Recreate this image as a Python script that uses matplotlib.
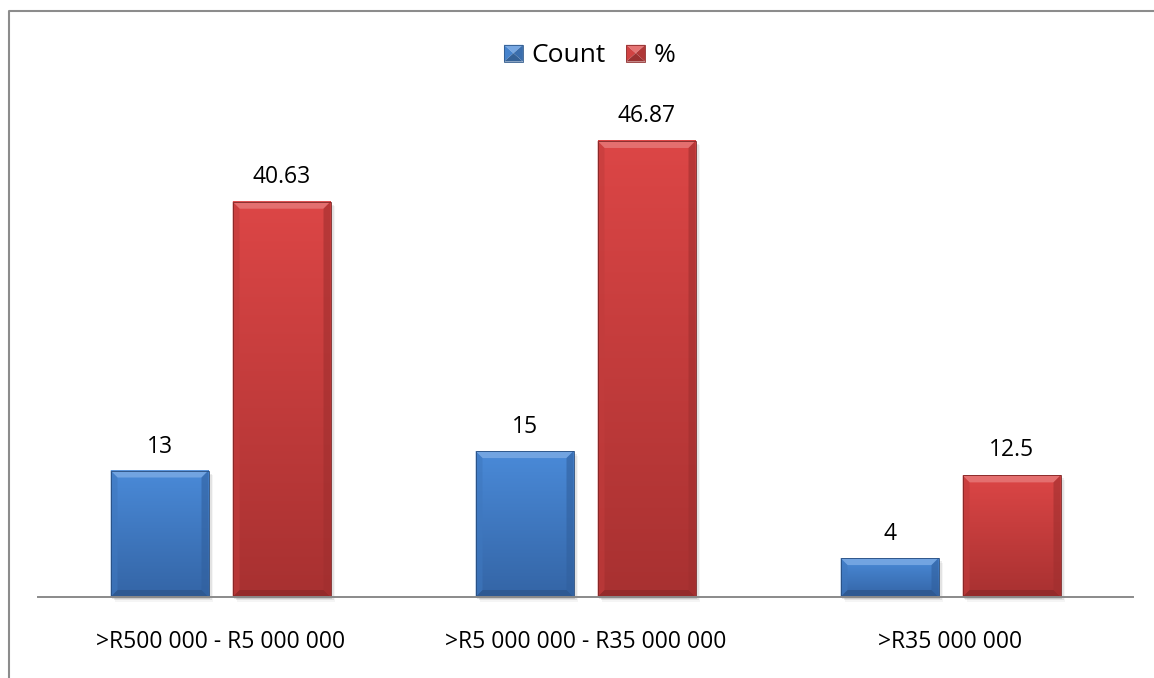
import numpy as np
import matplotlib
matplotlib.use("Agg")
import matplotlib.pyplot as plt
from matplotlib.patches import Polygon, Rectangle, Patch
from matplotlib.lines import Line2D
from matplotlib.colors import to_rgb
from matplotlib.legend_handler import HandlerBase

categories = [">R500 000 - R5 000 000", ">R5 000 000 - R35 000 000", ">R35 000 000"]
count_values = [13, 15, 4]
pct_values = [40.63, 46.87, 12.5]
count_labels = ["13", "15", "4"]
pct_labels = ["40.63", "46.87", "12.5"]
series_names = ["Count", "%"]

plt.rcParams["font.family"] = ["Open Sans", "DejaVu Sans"]

W, H, DPI = 1154, 678, 100
fig = plt.figure(figsize=(W / DPI, H / DPI), dpi=DPI)

ax_l, ax_r, ax_b, ax_t = 38, 1133, 597, 40  # pixel bounds of the plotting area
ax = fig.add_axes([ax_l / W, 1 - ax_b / H, (ax_r - ax_l) / W, (ax_b - ax_t) / H])
ymax = 57.25
ax.set_xlim(-0.5, len(categories) - 0.5)
ax.set_ylim(0, ymax)

px_x = len(categories) / (ax_r - ax_l)   # data units per pixel (x)
px_y = ymax / (ax_b - ax_t)              # data units per pixel (y)

BLUE_TOP, BLUE_BOT = "#4a8ad8", "#3465a6"
RED_TOP, RED_BOT = "#dc4646", "#a83131"


def mix(c, other, t):
    c = np.array(to_rgb(c)); o = np.array(to_rgb(other))
    return tuple(c * (1 - t) + o * t)


def bevel_bar(x, h, w, top, bot):
    x0, x1 = x - w / 2, x + w / 2
    bx, by = 7 * px_x, 7 * px_y
    # soft shadow
    for i, a in enumerate([0.10, 0.07, 0.04]):
        d = (i + 1) * 1.5
        ax.add_patch(Rectangle((x0 + d * px_x, -d * px_y), w, h, facecolor="black",
                               alpha=a, edgecolor="none", zorder=1, clip_on=False))
    # body gradient
    n = 64
    grad = np.linspace(0, 1, n)[:, None]
    ct, cb = np.array(to_rgb(top)), np.array(to_rgb(bot))
    img = ct[None, None, :] * (1 - grad[..., None]) + cb[None, None, :] * grad[..., None]
    ax.imshow(img, extent=(x0, x1, 0, h), aspect="auto", zorder=2, interpolation="bilinear")
    bb = min(by, h / 2)
    # bevel facets
    ax.add_patch(Polygon([(x0, h), (x1, h), (x1 - bx, h - bb), (x0 + bx, h - bb)],
                         facecolor=mix(top, "white", 0.22), edgecolor="none", zorder=3))
    ax.add_patch(Polygon([(x0, 0), (x1, 0), (x1 - bx, bb), (x0 + bx, bb)],
                         facecolor=mix(bot, "black", 0.12), edgecolor="none", zorder=3))
    ax.add_patch(Polygon([(x0, 0), (x0, h), (x0 + bx, h - bb), (x0 + bx, bb)],
                         facecolor=mix(top, bot, 0.5), alpha=0.6, edgecolor="none", zorder=3))
    ax.add_patch(Polygon([(x1, 0), (x1, h), (x1 - bx, h - bb), (x1 - bx, bb)],
                         facecolor=mix(bot, "black", 0.05), alpha=0.6, edgecolor="none", zorder=3))
    ax.add_patch(Rectangle((x0, 0), w, h, facecolor="none",
                           edgecolor=mix(bot, "black", 0.25), linewidth=0.6, zorder=4))


bar_w = 98 * px_x
offset = 61 * px_x
xs = np.arange(len(categories))
for i in xs:
    bevel_bar(i - offset, count_values[i], bar_w, BLUE_TOP, BLUE_BOT)
    bevel_bar(i + offset, pct_values[i], bar_w, RED_TOP, RED_BOT)
    ax.annotate(count_labels[i], (i - offset, count_values[i]), xytext=(0, 18),
                textcoords="offset pixels", ha="center", va="baseline", fontsize=16.5, color="black")
    ax.annotate(pct_labels[i], (i + offset, pct_values[i]), xytext=(0, 19),
                textcoords="offset pixels", ha="center", va="baseline", fontsize=16.5, color="black")

for s in ["top", "right", "left"]:
    ax.spines[s].set_visible(False)
ax.spines["bottom"].set_color("#8a8a8a")
ax.spines["bottom"].set_linewidth(1.4)
ax.spines["bottom"].set_zorder(5)
ax.set_yticks([])
ax.set_xticks(xs)
ax.set_xticklabels(categories, fontsize=16.5)
for lab in ax.get_xticklabels():
    lab.set_va("baseline")
ax.tick_params(axis="x", length=0, pad=51 * 72 / DPI)
ax.patch.set_alpha(0)

# chart frame (left and top edges)
fig.add_artist(Line2D([9 / W, 9 / W, 1.0], [0.0, 1 - 11 / H, 1 - 11 / H],
                      transform=fig.transFigure, color="#8c8c8c", linewidth=1.5))


class PyramidHandler(HandlerBase):
    """Legend key drawn as a small bevelled square."""

    def create_artists(self, legend, orig_handle, xdescent, ydescent, width, height,
                       fontsize, trans):
        top = orig_handle.get_facecolor()
        x0, y0 = -xdescent, -ydescent
        x1, y1 = x0 + width, y0 + height
        cx, cy = (x0 + x1) / 2, (y0 + y1) / 2
        faces = [
            ([(x0, y1), (x1, y1), (cx, cy)], mix(top, "white", 0.25)),
            ([(x0, y0), (x0, y1), (cx, cy)], mix(top, "black", 0.05)),
            ([(x1, y0), (x1, y1), (cx, cy)], mix(top, "black", 0.2)),
            ([(x0, y0), (x1, y0), (cx, cy)], mix(top, "black", 0.3)),
        ]
        arts = []
        for pts, col in faces:
            p = Polygon(pts, facecolor=col, edgecolor="none", transform=trans)
            arts.append(p)
        arts.append(Rectangle((x0, y0), width, height, facecolor="none",
                              edgecolor=mix(top, "black", 0.35), linewidth=0.6, transform=trans))
        return arts


handles = [Patch(facecolor=BLUE_TOP), Patch(facecolor=RED_TOP)]
fig.legend(handles, series_names, loc="center", bbox_to_anchor=(589.5 / W, 1 - 56 / H), ncol=2,
           frameon=False, fontsize=19, handlelength=0.72, handleheight=0.6,
           handletextpad=0.3, columnspacing=0.8,
           handler_map={Patch: PyramidHandler()})

fig.savefig("out.png", dpi=DPI)
